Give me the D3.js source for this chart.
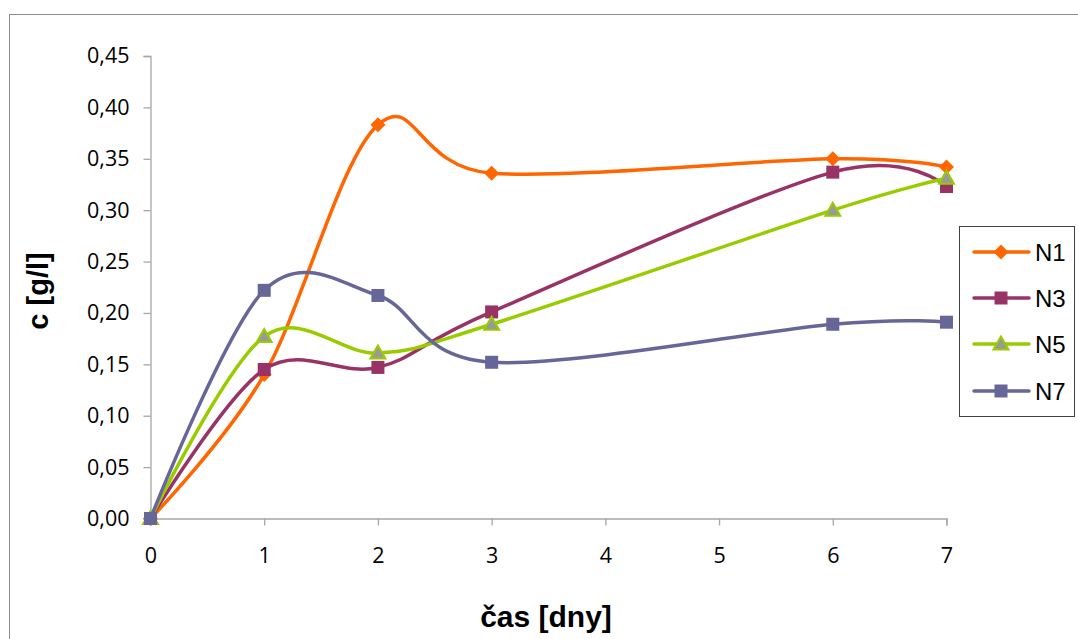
<!DOCTYPE html>
<html>
<head>
<meta charset="utf-8">
<script src="https://cdn.jsdelivr.net/npm/d3@7"></script>
<style>
  html, body { margin: 0; padding: 0; background: #fff; }
  svg { display: block; }
</style>
</head>
<body>
<svg id="chart" width="1078" height="639"></svg>
<script>
const days = [0, 1, 2, 3, 6, 7];
const seriesNames = ["N1", "N3", "N5", "N7"];
const N1 = [0, 0.140, 0.383, 0.336, 0.350, 0.342];
const N3 = [0, 0.145, 0.147, 0.201, 0.337, 0.323];
const N5 = [0, 0.177, 0.161, 0.189, 0.300, 0.331];
const N7 = [0, 0.222, 0.217, 0.152, 0.189, 0.191];
const xTicks = [0, 1, 2, 3, 4, 5, 6, 7];
const yTicks = [0, 0.05, 0.10, 0.15, 0.20, 0.25, 0.30, 0.35, 0.40, 0.45];
const xTitle = "čas [dny]";
const yTitle = "c [g/l]";

const seriesValues = [N1, N3, N5, N7];
const colors = ["#FF6600", "#993366", "#99CC00", "#666699"];
const markers = ["diamond", "square", "triangle", "square"];

const svg = d3.select("#chart");

// outer chart border
svg.append("rect").attr("x", 9.5).attr("y", 14.5).attr("width", 1100).attr("height", 700)
  .attr("fill", "none").attr("stroke", "#8c8c8c").attr("stroke-width", 1);

const x = d3.scaleLinear().domain([0, 7]).range([150.5, 946.5]);
const y = d3.scaleLinear().domain([0, 0.45]).range([518.5, 56]);

const axisColor = "#a6a6a6";
const fmt = d => d3.format(".2f")(d).replace(".", ",");

// Y axis
const yAxis = svg.append("g").attr("transform", `translate(${x(0)},0)`)
  .call(d3.axisLeft(y).tickValues(yTicks).tickFormat(fmt).tickSize(7).tickPadding(14));
yAxis.select(".domain").attr("stroke", axisColor).attr("stroke-width", 1.3);
yAxis.selectAll(".tick line").attr("stroke", axisColor).attr("stroke-width", 1.3);
yAxis.selectAll(".tick text").attr("font-family", "'Open Sans', sans-serif")
  .attr("font-size", 21.5).attr("fill", "#000");

// X axis
const xAxis = svg.append("g").attr("transform", `translate(0,${y(0)})`)
  .call(d3.axisBottom(x).tickValues(xTicks).tickFormat(d3.format("d")).tickSize(7).tickPadding(22));
xAxis.select(".domain").attr("stroke", axisColor).attr("stroke-width", 1.3);
xAxis.selectAll(".tick line").attr("stroke", axisColor).attr("stroke-width", 1.3);
xAxis.selectAll(".tick text").attr("font-family", "'Open Sans', sans-serif")
  .attr("font-size", 21.5).attr("fill", "#000");

// Titles
svg.append("text").attr("x", 546).attr("y", 627).attr("text-anchor", "middle")
  .attr("font-family", "'Liberation Sans', Arial, sans-serif").attr("font-weight", "bold")
  .attr("font-size", 30).text(xTitle);
svg.append("text").attr("transform", "translate(48,291) rotate(-90)").attr("text-anchor", "middle")
  .attr("font-family", "'Liberation Sans', Arial, sans-serif").attr("font-weight", "bold")
  .attr("font-size", 29).text(yTitle);

const line = d3.line().x(d => x(d[0])).y(d => y(d[1])).curve(d3.curveCardinal.tension(0));

function drawMarker(g, type, color, cx, cy) {
  if (type === "diamond") {
    g.append("path").attr("d", `M${cx},${cy-7.5}L${cx+7.5},${cy}L${cx},${cy+7.5}L${cx-7.5},${cy}Z`)
      .attr("fill", color);
  } else if (type === "square") {
    g.append("rect").attr("x", cx - 6.5).attr("y", cy - 6.5).attr("width", 13).attr("height", 13)
      .attr("fill", color);
  } else if (type === "triangle") {
    g.append("path").attr("d", `M${cx},${cy-7.5}L${cx+7.5},${cy+5.5}L${cx-7.5},${cy+5.5}Z`)
      .attr("fill", "#999999").attr("stroke", color).attr("stroke-width", 2).attr("stroke-linejoin", "miter");
  }
}

seriesValues.forEach((vals, i) => {
  const pts = days.map((d, j) => [d, vals[j]]);
  const g = svg.append("g");
  g.append("path").attr("d", line(pts)).attr("fill", "none").attr("stroke", colors[i])
    .attr("stroke-width", 3.5).attr("stroke-linejoin", "round").attr("stroke-linecap", "round");
  pts.forEach(p => drawMarker(g, markers[i], colors[i], x(p[0]), y(p[1])));
});

// Legend
const lg = svg.append("g");
lg.append("rect").attr("x", 959.5).attr("y", 226.5).attr("width", 115).attr("height", 190)
  .attr("fill", "#fff").attr("stroke", "#404040").attr("stroke-width", 1);
const legendY = [252, 298, 344, 391];
seriesNames.forEach((name, i) => {
  const ly = legendY[i];
  lg.append("line").attr("x1", 974).attr("x2", 1029).attr("y1", ly).attr("y2", ly)
    .attr("stroke", colors[i]).attr("stroke-width", 3.5).attr("stroke-linecap", "round");
  drawMarker(lg, markers[i], colors[i], 1001, ly);
  lg.append("text").attr("x", 1035).attr("y", ly + 8.5)
    .attr("font-family", "'Liberation Sans', Arial, sans-serif").attr("font-size", 24)
    .attr("fill", "#000").text(name);
});
</script>
</body>
</html>
